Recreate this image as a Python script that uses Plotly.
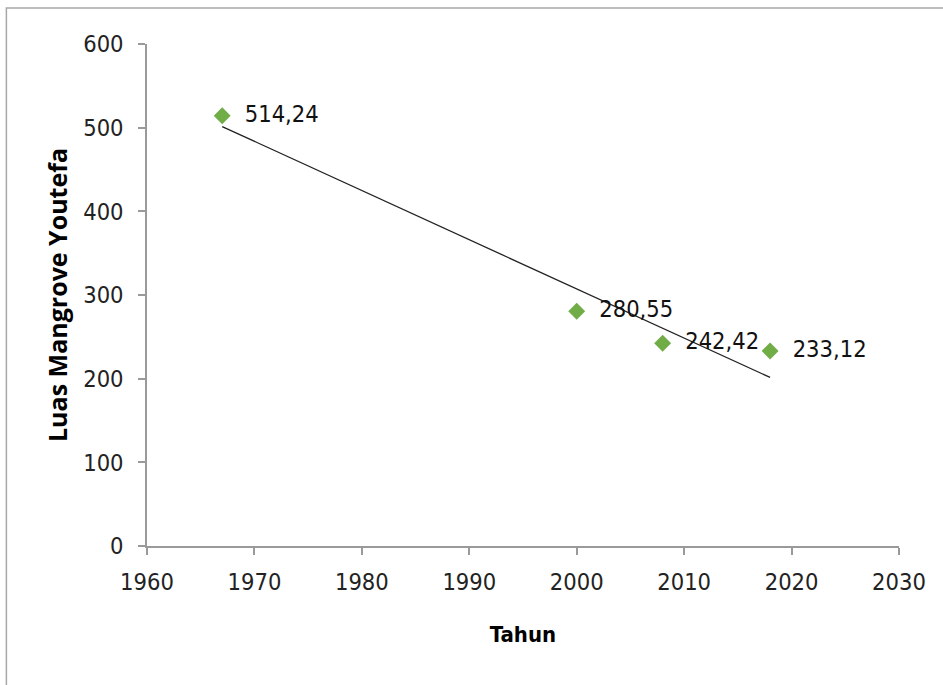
import numpy as np
import plotly.graph_objects as go

years = [1967, 2000, 2008, 2018]
area = [514.24, 280.55, 242.42, 233.12]
labels = ["514,24", "280,55", "242,42", "233,12"]
x_ticks = [1960, 1970, 1980, 1990, 2000, 2010, 2020, 2030]
y_ticks = [0, 100, 200, 300, 400, 500, 600]

slope, intercept = np.polyfit(years, area, 1)
trend_x = [min(years), max(years)]
trend_y = [slope * v + intercept for v in trend_x]

TICK_FONT = "DejaVu Sans Condensed, Liberation Sans Narrow, Liberation Sans, sans-serif"

fig = go.Figure()
fig.add_trace(go.Scatter(
    x=trend_x, y=trend_y, mode="lines",
    line=dict(color="#222222", width=1.3),
    showlegend=False, hoverinfo="skip"))
fig.add_trace(go.Scatter(
    x=years, y=area, mode="markers+text",
    marker=dict(symbol="diamond", color="#70AD47", size=13),
    text=["  " + t for t in labels], textposition="middle right",
    textfont=dict(family=TICK_FONT, size=23.5, color="#111111"),
    showlegend=False))

axis_common = dict(showgrid=False, zeroline=False, showline=True,
                   linecolor="#9a9a9a", linewidth=1.5, ticks="outside",
                   tickcolor="#9a9a9a", ticklen=7, tickwidth=1.5,
                   tickfont=dict(family=TICK_FONT, size=23.5, color="#222222"))

fig.update_xaxes(range=[1960, 2030], tickvals=x_ticks, ticklabelstandoff=7,
                 title=dict(text="<b>Tahun</b>", font=dict(family=TICK_FONT, size=22, color="#000000"), standoff=32),
                 **axis_common)
fig.update_yaxes(range=[0, 600], tickvals=y_ticks, ticklabelstandoff=10,
                 title=dict(text="<b>Luas Mangrove Youtefa</b>", font=dict(family="Open Sans, sans-serif", size=25, color="#000000"), standoff=8),
                 **axis_common)

# outer chart frame
fig.add_shape(type="path", xref="paper", yref="paper",
              path="M -0.187 -0.4 L -0.187 1.0717 L 1.1 1.0717",
              line=dict(color="#a8a8a8", width=1.5))

fig.update_layout(width=943, height=685,
                  margin=dict(l=147, r=44, t=44, b=139),
                  plot_bgcolor="white", paper_bgcolor="white")

fig.write_html("out.html", config={"displayModeBar": False},
               post_script="document.body.style.margin='0';")
